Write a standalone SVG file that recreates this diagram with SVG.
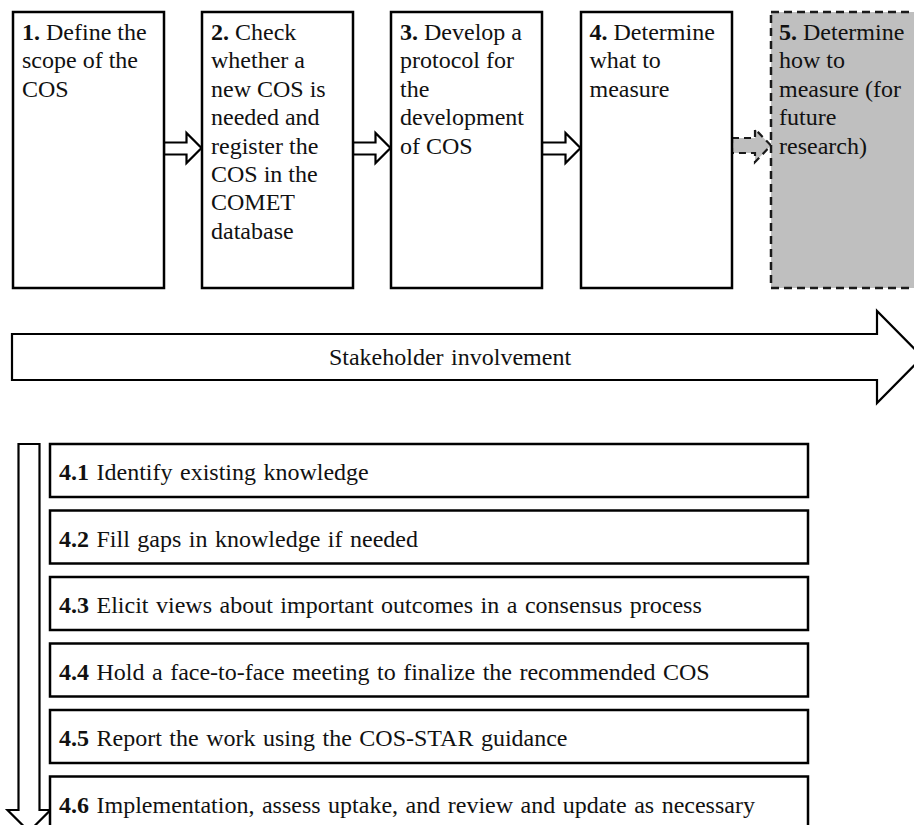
<svg xmlns="http://www.w3.org/2000/svg" width="914" height="825" viewBox="0 0 914 825">
<style>
.box{fill:#fff;stroke:#000;stroke-width:2.5}
.dbox{fill:#bfbfbf;stroke:#1a1a1a;stroke-width:2.5;stroke-dasharray:8,5}
.arr{fill:#fff;stroke:#000;stroke-width:2.2;stroke-linejoin:miter}
.darr{fill:#bfbfbf;stroke:#1a1a1a;stroke-width:2.2;stroke-dasharray:7,5}
.b{font-weight:bold}
.ws{word-spacing:1.5px}
</style>
<rect width="914" height="825" fill="#fff"/>
<g id="connectors">
<polygon class="arr" points="164,142.5 186.5,142.5 186.5,133 201.5,148 186.5,163 186.5,154.5 164,154.5"/>
<polygon class="arr" points="353,142.5 375.5,142.5 375.5,133 390.5,148 375.5,163 375.5,154.5 353,154.5"/>
<polygon class="arr" points="542,142.5 565.5,142.5 565.5,133 580.5,148 565.5,163 565.5,154.5 542,154.5"/>
<polygon class="darr" points="732,138 755,138 755,129 771,145.5 755,162 755,153 732,153"/>
</g>
<g font-family="Liberation Serif, DejaVu Serif, Times New Roman, serif" font-size="24" fill="#111">
<g id="n1"><rect class="box" x="13" y="12" width="151" height="276"/>
<text x="22" y="40"><tspan class="b">1.</tspan> Define the<tspan x="22" dy="28.4">scope of the</tspan><tspan x="22" dy="28.4">COS</tspan></text></g>
<g id="n2"><rect class="box" x="202" y="12" width="151" height="276"/>
<text x="211" y="40"><tspan class="b">2.</tspan> Check<tspan x="211" dy="28.4">whether a</tspan><tspan x="211" dy="28.4">new COS is</tspan><tspan x="211" dy="28.4">needed and</tspan><tspan x="211" dy="28.4">register the</tspan><tspan x="211" dy="28.4">COS in the</tspan><tspan x="211" dy="28.4">COMET</tspan><tspan x="211" dy="28.4">database</tspan></text></g>
<g id="n3"><rect class="box" x="391" y="12" width="151" height="276"/>
<text x="400" y="40"><tspan class="b">3.</tspan> Develop a<tspan x="400" dy="28.4">protocol for</tspan><tspan x="400" dy="28.4">the</tspan><tspan x="400" dy="28.4">development</tspan><tspan x="400" dy="28.4">of COS</tspan></text></g>
<g id="n4"><rect class="box" x="581" y="12" width="151" height="276"/>
<text x="589.5" y="40"><tspan class="b">4.</tspan> Determine<tspan x="589.5" dy="28.4">what to</tspan><tspan x="589.5" dy="28.4">measure</tspan></text></g>
<g id="n5"><rect class="dbox" x="771" y="12" width="152" height="276"/>
<text x="779" y="40"><tspan class="b">5.</tspan> Determine<tspan x="779" dy="28.4">how to</tspan><tspan x="779" dy="28.4">measure (for</tspan><tspan x="779" dy="28.4">future</tspan><tspan x="779" dy="28.4">research)</tspan></text></g>
<g id="stakeholder"><polygon class="arr" points="12,334 877,334 877,311 922.5,357 877,403 877,380 12,380"/>
<text x="450" y="365" text-anchor="middle" class="ws">Stakeholder involvement</text></g>
<g id="vertical-arrow"><polygon class="arr" points="18.5,444 39.5,444 39.5,810 50.5,810 29,831.5 7.5,810 18.5,810"/></g>
<g id="s41"><rect class="box" x="50" y="444" width="758" height="53"/><text class="ws" x="59" y="480"><tspan class="b">4.1</tspan> Identify existing knowledge</text></g>
<g id="s42"><rect class="box" x="50" y="510.5" width="758" height="53"/><text class="ws" x="59" y="546.5"><tspan class="b">4.2</tspan> Fill gaps in knowledge if needed</text></g>
<g id="s43"><rect class="box" x="50" y="577" width="758" height="53"/><text class="ws" x="59" y="613"><tspan class="b">4.3</tspan> Elicit views about important outcomes in a consensus process</text></g>
<g id="s44"><rect class="box" x="50" y="643.5" width="758" height="53"/><text class="ws" x="59" y="679.5"><tspan class="b">4.4</tspan> Hold a face-to-face meeting to finalize the recommended COS</text></g>
<g id="s45"><rect class="box" x="50" y="710" width="758" height="53"/><text class="ws" x="59" y="746"><tspan class="b">4.5</tspan> Report the work using the COS-STAR guidance</text></g>
<g id="s46"><rect class="box" x="50" y="776.5" width="758" height="70"/><text class="ws" x="59" y="812.5"><tspan class="b">4.6</tspan> Implementation, assess uptake, and review and update as necessary</text></g>
</g>
</svg>
